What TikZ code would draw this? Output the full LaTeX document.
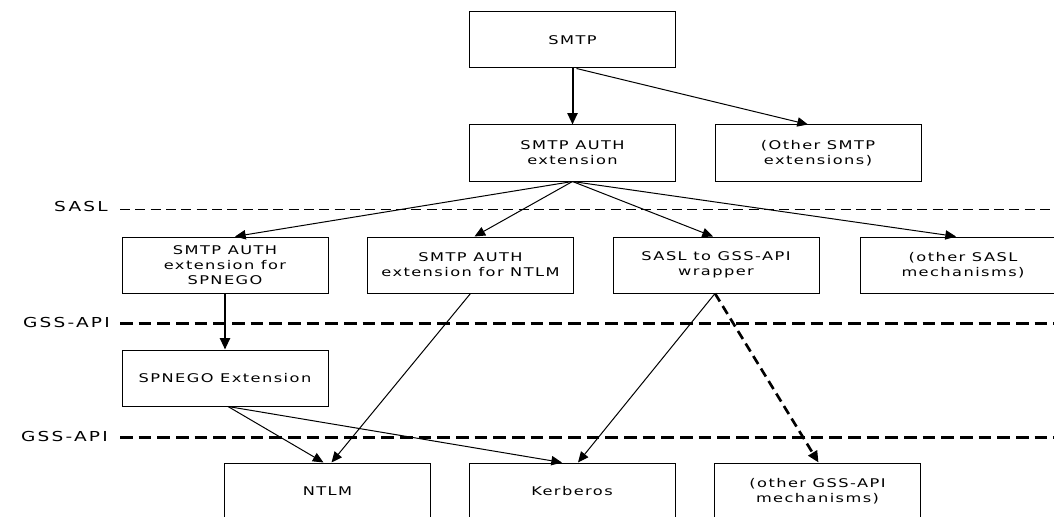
\documentclass[tikz,border=0pt]{standalone}
\usepackage{fontspec}
\usetikzlibrary{arrows.meta,calc}
\newfontfamily\boxfont[FakeStretch=1.35,LetterSpace=12]{DejaVu Sans}
\newfontfamily\lblfont[FakeStretch=1.35,LetterSpace=16]{DejaVu Sans}
\begin{document}
\begin{tikzpicture}[x=0.75pt,y=-0.75pt,
  mbox/.style={draw=black, line width=0.75pt, minimum width=154.5pt, minimum height=42pt,
    align=center, inner sep=0pt, font=\boxfont\fontsize{9}{11.25}\selectfont},
  layerlbl/.style={anchor=east, inner sep=0pt, font=\lblfont\fontsize{10.3}{12}\selectfont},
  sasl/.style={line width=0.75pt, dash pattern=on 7.5pt off 4pt},
  gss/.style={line width=2.25pt, dash pattern=on 9.5pt off 4.5pt},
  arr/.style={-{Triangle[length=8pt,width=7pt]}, line width=0.75pt},
  tarr/.style={-{Triangle[length=8.5pt,width=7.5pt]}, line width=1.5pt},
  darr/.style={-{Triangle[length=8.5pt,width=7.5pt]}, line width=2pt, dash pattern=on 7pt off 4pt}]
\clip (0,0) rectangle (1054,517);
\fill[white] (0,0) rectangle (1054,517);

% layer separators
\node[layerlbl] (lsasl) at (108,207) {SASL};
\node[layerlbl] (lgss1) at (110,322) {GSS-API};
\node[layerlbl] (lgss2) at (108,436) {GSS-API};
\coordinate (s1) at (120,209);  \coordinate (s2) at (1054,209);
\coordinate (g1) at (120,323);  \coordinate (g2) at (1054,323);
\coordinate (h1) at (120,437);  \coordinate (h2) at (1054,437);
\draw[sasl] (s1) -- (s2);
\draw[gss] (g1) -- (g2);
\draw[gss] (h1) -- (h2);

% boxes
\node[mbox] (smtp) at (572.5,40) {SMTP};
\node[mbox] (auth) at (572.5,153) {SMTP AUTH\\extension};
\node[mbox] (osmtp) at (818,153) {(Other SMTP\\extensions)};
\node[mbox] (b1) at (225,265) {SMTP AUTH\\extension for\\SPNEGO};
\node[mbox] (b2) at (470.5,265) {SMTP AUTH\\extension for NTLM};
\node[mbox] (b3) at (716,265) {SASL to GSS-API\\wrapper};
\node[mbox] (b4) at (963,265) {(other SASL\\mechanisms)};
\node[mbox] (spnego) at (225,378) {SPNEGO Extension};
\node[mbox] (ntlm) at (327.5,491) {NTLM};
\node[mbox] (kerb) at (572,491) {Kerberos};
\node[mbox] (ogss) at (817.5,491) {(other GSS-API\\mechanisms)};

% connectors
\draw[tarr] (smtp.south) -- (auth.north);
\draw[arr] ($(smtp.south)+(4,0)$) -- ($(osmtp.north)+(-10,0)$);
\draw[arr] (auth.south) -- ($(b1.north)+(10,0)$);
\draw[arr] (auth.south) -- ($(b2.north)+(4,0)$);
\draw[arr] (auth.south) -- ($(b3.north)+(-3,0)$);
\draw[arr] (auth.south) -- ($(b4.north)+(-7,0)$);
\draw[tarr] (b1.south) -- (spnego.north);
\draw[arr] (b2.south) -- ($(ntlm.north)+(4,0)$);
\draw[arr] ($(spnego.south)+(3,0)$) -- ($(ntlm.north)+(-4,0)$);
\draw[arr] ($(spnego.south)+(3,0)$) -- ($(kerb.north)+(-10,0)$);
\draw[arr] ($(b3.south)+(-1,0)$) -- ($(kerb.north)+(6,0)$);
\draw[darr] ($(b3.south)+(-1,0)$) -- ($(ogss.north)+(1,0)$);
\end{tikzpicture}
\end{document}
